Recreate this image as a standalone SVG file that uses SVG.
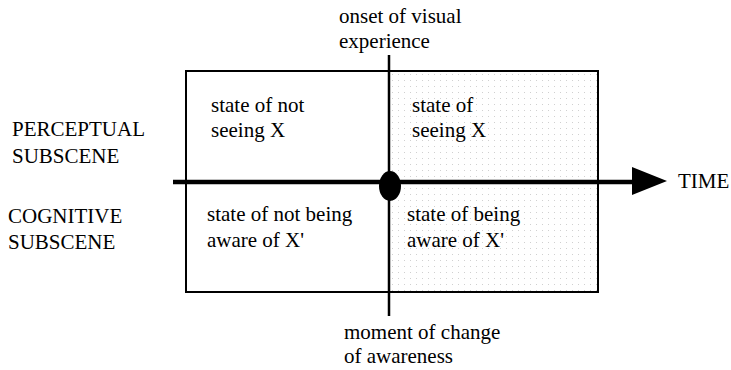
<svg xmlns="http://www.w3.org/2000/svg" width="731" height="370" viewBox="0 0 731 370">
<style>
.ln{stroke:#000;fill:none}
</style>
<defs>
<pattern id="dots" width="6" height="6" patternUnits="userSpaceOnUse">
<rect x="2" y="2" width="1" height="1" fill="#d0d0d0"/>
</pattern>
</defs>
<rect width="731" height="370" fill="#fff"/>
<g id="frame">
<rect x="390" y="71" width="208" height="221" fill="url(#dots)"/>
<rect x="186" y="71" width="412" height="221" class="ln" stroke-width="2"/>
</g>
<g id="connectors">
<line x1="389" y1="55" x2="389" y2="316" class="ln" stroke-width="2.5"/>
<line x1="173" y1="182" x2="634" y2="182" class="ln" stroke-width="4.5"/>
<polygon points="632,167 667,181 632,195" fill="#000"/>
<ellipse cx="390" cy="186" rx="11" ry="15" fill="#000"/>
</g>
<g font-size="21" fill="#000">
<g id="labels">
<text x="12" y="136" font-family="'Liberation Serif', serif">PERCEPTUAL</text>
<text x="12" y="163" font-family="'Liberation Serif', serif">SUBSCENE</text>
<text x="8" y="223" font-family="'Liberation Serif', serif">COGNITIVE</text>
<text x="8" y="249" font-family="'Liberation Serif', serif">SUBSCENE</text>
<text x="678" y="188" font-family="'Liberation Serif', serif">TIME</text>
</g>
<g id="onset">
<text x="339" y="23" font-family="'Liberation Serif', serif">onset of visual</text>
<text x="339" y="48" font-family="'Liberation Serif', serif">experience</text>
</g>
<g id="moment">
<text x="344" y="339" font-family="'Liberation Serif', serif">moment of change</text>
<text x="344" y="363" font-family="'Liberation Serif', serif">of awareness</text>
</g>
<g id="q1"><text x="211" y="112" font-family="'Liberation Serif', serif">state of not</text><text x="211" y="137" font-family="'Liberation Serif', serif">seeing X</text></g>
<g id="q2"><text x="412" y="112" font-family="'Liberation Serif', serif">state of</text><text x="412" y="137" font-family="'Liberation Serif', serif">seeing X</text></g>
<g id="q3"><text x="207" y="221" font-family="'Liberation Serif', serif">state of not being</text><text x="207" y="247" font-family="'Liberation Serif', serif">aware of X'</text></g>
<g id="q4"><text x="407" y="221" font-family="'Liberation Serif', serif">state of being</text><text x="407" y="247" font-family="'Liberation Serif', serif">aware of X'</text></g>
</g>
</svg>
